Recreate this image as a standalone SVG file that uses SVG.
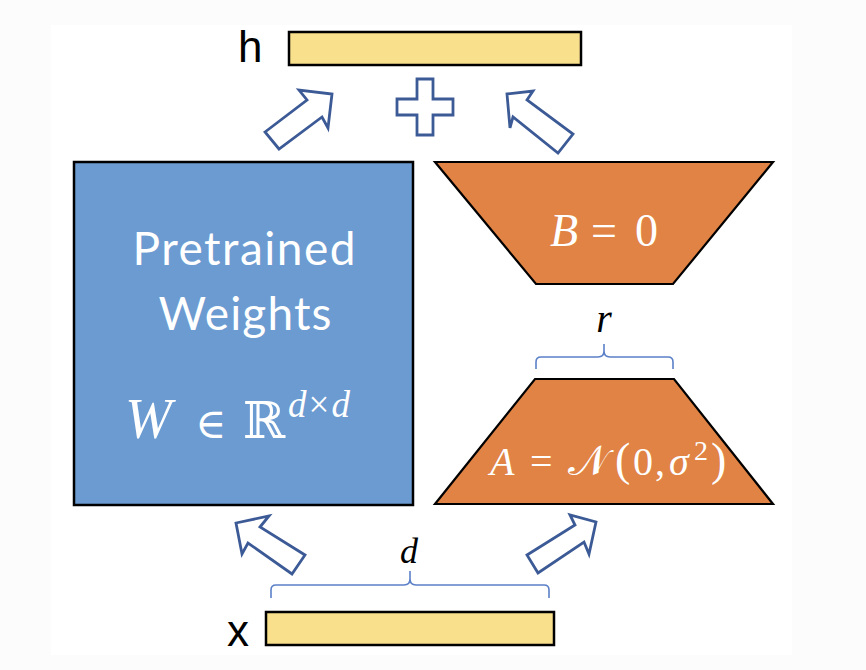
<svg xmlns="http://www.w3.org/2000/svg" width="866" height="670" viewBox="0 0 866 670">
<defs>
<style>
.bar{fill:#f9e08d;stroke:#000;stroke-width:2.5}
.arrow{fill:#fff;stroke:#3c5a96;stroke-width:2.8;stroke-linejoin:miter}
.brace{fill:none;stroke:#5b80c8;stroke-width:1.6}
.trap{fill:#e08344;stroke:#000;stroke-width:2.2;stroke-linejoin:miter}
.lbl{font-family:"Liberation Sans",Arial,sans-serif;fill:#000}
.math{font-family:"Liberation Serif","DejaVu Serif",serif;font-style:italic}
.sym{font-family:"DejaVu Serif","Liberation Serif",serif;font-style:normal}
.up{font-family:"Liberation Serif","DejaVu Serif",serif;font-style:normal}
.w{fill:#fff}
.sans{font-family:Lato,"Open Sans",sans-serif;fill:#fff}
</style>
</defs>
<rect x="0" y="0" width="866" height="670" fill="#fcfcfc"/>
<rect x="51" y="25" width="741" height="630" fill="#fff"/>

<g id="h">
<text class="lbl" x="238" y="62" font-size="44">h</text>
<rect class="bar" x="289" y="32" width="292" height="33"/>
</g>

<g id="plus">
<path class="arrow" d="M417,79 H433 V99 H453 V115 H433 V135 H417 V115 H397 V99 H417 Z"/>
</g>

<g id="pretrained">
<rect x="74" y="162" width="339" height="343" fill="#6b9bd1" stroke="#000" stroke-width="2.5"/>
<text class="sans" x="244" y="265" font-size="46" text-anchor="middle" textLength="223">Pretrained</text>
<text class="sans" x="245" y="330" font-size="46" text-anchor="middle" textLength="173">Weights</text>
<text class="w" y="438"><tspan class="math" x="125" font-size="56">W</tspan><tspan class="sym" x="195" font-size="42">∈</tspan><tspan class="sym" x="243" font-size="51">ℝ</tspan></text>
<text class="w" y="417" font-size="37"><tspan class="math" x="288">d</tspan><tspan class="up" dx="2">×</tspan><tspan class="math" dx="2">d</tspan></text>
</g>

<g id="B">
<polygon class="trap" points="435,162 773,162 673,284 536,284"/>
<text class="w" y="246" font-size="46"><tspan class="math" x="550">B</tspan><tspan class="up" x="591">=</tspan><tspan class="up" x="635">0</tspan></text>
</g>

<g id="A">
<polygon class="trap" points="535,379 674,379 773,504 435,504"/>
<text class="w" y="475" font-size="40"><tspan class="math" x="490">A</tspan><tspan class="up" x="530">=</tspan><tspan class="sym" x="568" font-style="italic" font-size="42">𝒩</tspan><tspan class="up" x="615" font-size="46">(</tspan><tspan class="up" x="633">0</tspan><tspan class="up" x="655">,</tspan><tspan class="math" x="669">σ</tspan><tspan class="up" x="694" y="460" font-size="28">2</tspan><tspan class="up" x="711" y="475" font-size="46">)</tspan></text>
</g>

<g id="x">
<text class="lbl" x="227" y="646" font-size="44">x</text>
<rect class="bar" x="266" y="612" width="288" height="33"/>
</g>

<g id="r-label">
<path class="brace" d="M536,369 V362 Q536,357 541,357 H598 Q604,357 604,351 V344 M604,351 Q604,357 610,357 H668 Q673,357 673,362 V369"/>
<text class="math" x="604" y="332" font-size="40" text-anchor="middle" fill="#000">r</text>
</g>

<g id="d-label">
<path class="brace" d="M271,598 V590 Q271,585 276,585 H404 Q410,585 410,579 V571 M410,579 Q410,585 416,585 H544 Q549,585 549,590 V598"/>
<text class="math" x="409" y="563" font-size="36" text-anchor="middle" fill="#000">d</text>
</g>

<g id="connectors">
<polygon class="arrow" points="265,132 307,100 299,90 332,94 328,128 322,117 279,149"/>
<polygon class="arrow" points="507,94 533,91 527,100 573,134 558,153 513,117 510,128"/>
<polygon class="arrow" points="236,523 269,516 260,527 305,555 292,574 248,543 242,554"/>
<polygon class="arrow" points="527,555 575,525 570,515 596,522 589,554 584,542 538,573"/>
</g>
</svg>
